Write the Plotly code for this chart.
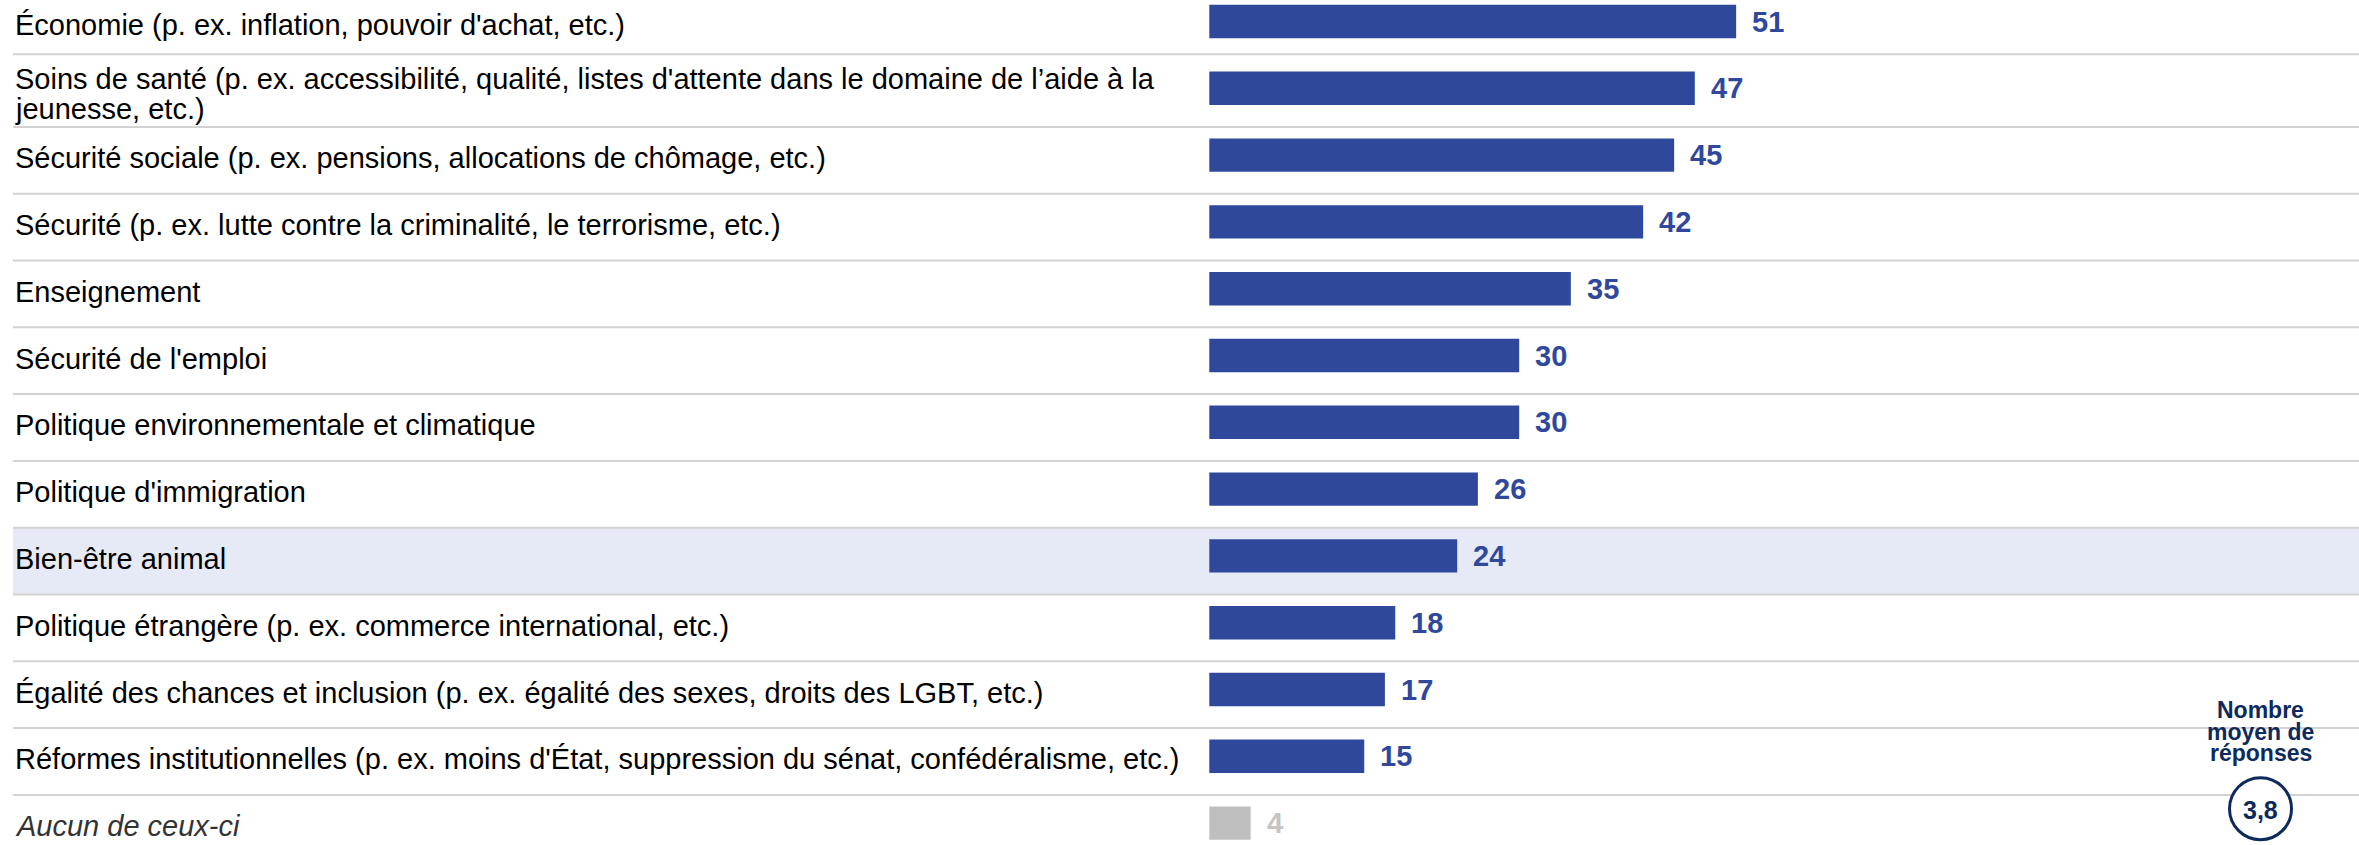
import plotly.graph_objects as go

# ---- data ----
categories = [
    "Économie (p. ex. inflation, pouvoir d'achat, etc.)",
    "Soins de santé (p. ex. accessibilité, qualité, listes d'attente dans le domaine de l’aide à la<br>jeunesse, etc.)",
    "Sécurité sociale (p. ex. pensions, allocations de chômage, etc.)",
    "Sécurité (p. ex. lutte contre la criminalité, le terrorisme, etc.)",
    "Enseignement",
    "Sécurité de l'emploi",
    "Politique environnementale et climatique",
    "Politique d'immigration",
    "Bien-être animal",
    "Politique étrangère (p. ex. commerce international, etc.)",
    "Égalité des chances et inclusion (p. ex. égalité des sexes, droits des LGBT, etc.)",
    "Réformes institutionnelles (p. ex. moins d'État, suppression du sénat, confédéralisme, etc.)",
    "Aucun de ceux-ci",
]
values = [51, 47, 45, 42, 35, 30, 30, 26, 24, 18, 17, 15, 4]
highlight_category = "Bien-être animal"
none_category = "Aucun de ceux-ci"
side_title = ["Nombre", "moyen de", "réponses"]
side_value = "3,8"

# ---- styles ----
W, H = 2359, 845
BLUE = "#2F489C"
GREY_BAR = "#BFBFBF"
GREY_TXT = "#C4C4C4"
NAVY = "#0E2A5C"
FONT = "Arial, Liberation Sans, sans-serif"
px_per_unit = 10.33
bar_start_px = 1209.3
row_px = 66.8
first_center_px = 21.5

n = len(categories)
idx = list(range(n))
colors = [GREY_BAR if c == none_category else BLUE for c in categories]

fig = go.Figure()
fig.add_trace(go.Bar(
    x=values, y=idx, orientation="h",
    marker=dict(color=colors, line=dict(width=0)),
    width=0.5, hoverinfo="skip", showlegend=False,
))

annotations = []
shapes = []

# highlight band
hi = categories.index(highlight_category)
shapes.append(dict(type="rect", xref="paper", yref="y", x0=13 / W, x1=1,
                   y0=hi - 1 + 0.578, y1=hi + 0.578, fillcolor="#E6EAF6",
                   line=dict(width=0), layer="below"))

# separators
sep_offsets = [0.49] + [0.578] * (n - 2)
for i, off in enumerate(sep_offsets):
    shapes.append(dict(type="line", xref="paper", yref="y", x0=13 / W, x1=1,
                       y0=i + off, y1=i + off,
                       line=dict(color="#D2D2D2", width=2), layer="below"))

# category labels
for i, c in enumerate(categories):
    lines = c.split("<br>")
    italic = c == none_category
    if len(lines) == 1:
        shifts = [-3]
    else:
        shifts = [9, -21]
    for ln, sh in zip(lines, shifts):
        annotations.append(dict(
            x=13 / W, xref="paper", y=i, yref="y", xanchor="left", yanchor="middle",
            text=("<i>%s</i>" % ln) if italic else ln, showarrow=False, yshift=sh,
            font=dict(family=FONT, size=29, color="#333333" if italic else "#000000"),
        ))

# value labels
for i, v in enumerate(values):
    col = GREY_TXT if categories[i] == none_category else BLUE
    annotations.append(dict(
        x=v, xref="x", y=i, yref="y", xanchor="left", yanchor="middle",
        text="<b>%d</b>" % v, showarrow=False, xshift=14,
        font=dict(family=FONT, size=29, color=col),
    ))

# side note
cx_px = 2260.5
for k, t in enumerate(side_title):
    annotations.append(dict(
        x=cx_px / W, xref="paper", y=1 - (710 + 21.5 * k) / H, yref="paper",
        xanchor="center", yanchor="middle", text="<b>%s</b>" % t, showarrow=False,
        font=dict(family=FONT, size=23, color=NAVY), borderpad=0,
    ))
annotations.append(dict(
    x=cx_px / W, xref="paper", y=1 - 810 / H, yref="paper",
    xanchor="center", yanchor="middle", text="<b>%s</b>" % side_value, showarrow=False,
    font=dict(family=FONT, size=25, color=NAVY),
))
shapes.append(dict(type="circle", xref="paper", yref="paper",
                   xsizemode="pixel", ysizemode="pixel",
                   xanchor=cx_px / W, yanchor=1 - 808.7 / H,
                   x0=-31, x1=31, y0=-31, y1=31,
                   line=dict(color=NAVY, width=3), fillcolor="white", layer="above"))

xmin = -bar_start_px / px_per_unit
xmax = (W - bar_start_px) / px_per_unit
ytop = -first_center_px / row_px
ybot = (H - first_center_px) / row_px

fig.update_layout(
    width=W, height=H, margin=dict(l=0, r=0, t=0, b=0),
    paper_bgcolor="white", plot_bgcolor="rgba(0,0,0,0)",
    xaxis=dict(range=[xmin, xmax], visible=False, fixedrange=True),
    yaxis=dict(range=[ybot, ytop], visible=False, fixedrange=True),
    annotations=annotations, shapes=shapes, showlegend=False,
)

fig.write_html("out.html", config={"displayModeBar": False},
               post_script="document.body.style.margin='0';document.body.style.overflow='hidden';")
